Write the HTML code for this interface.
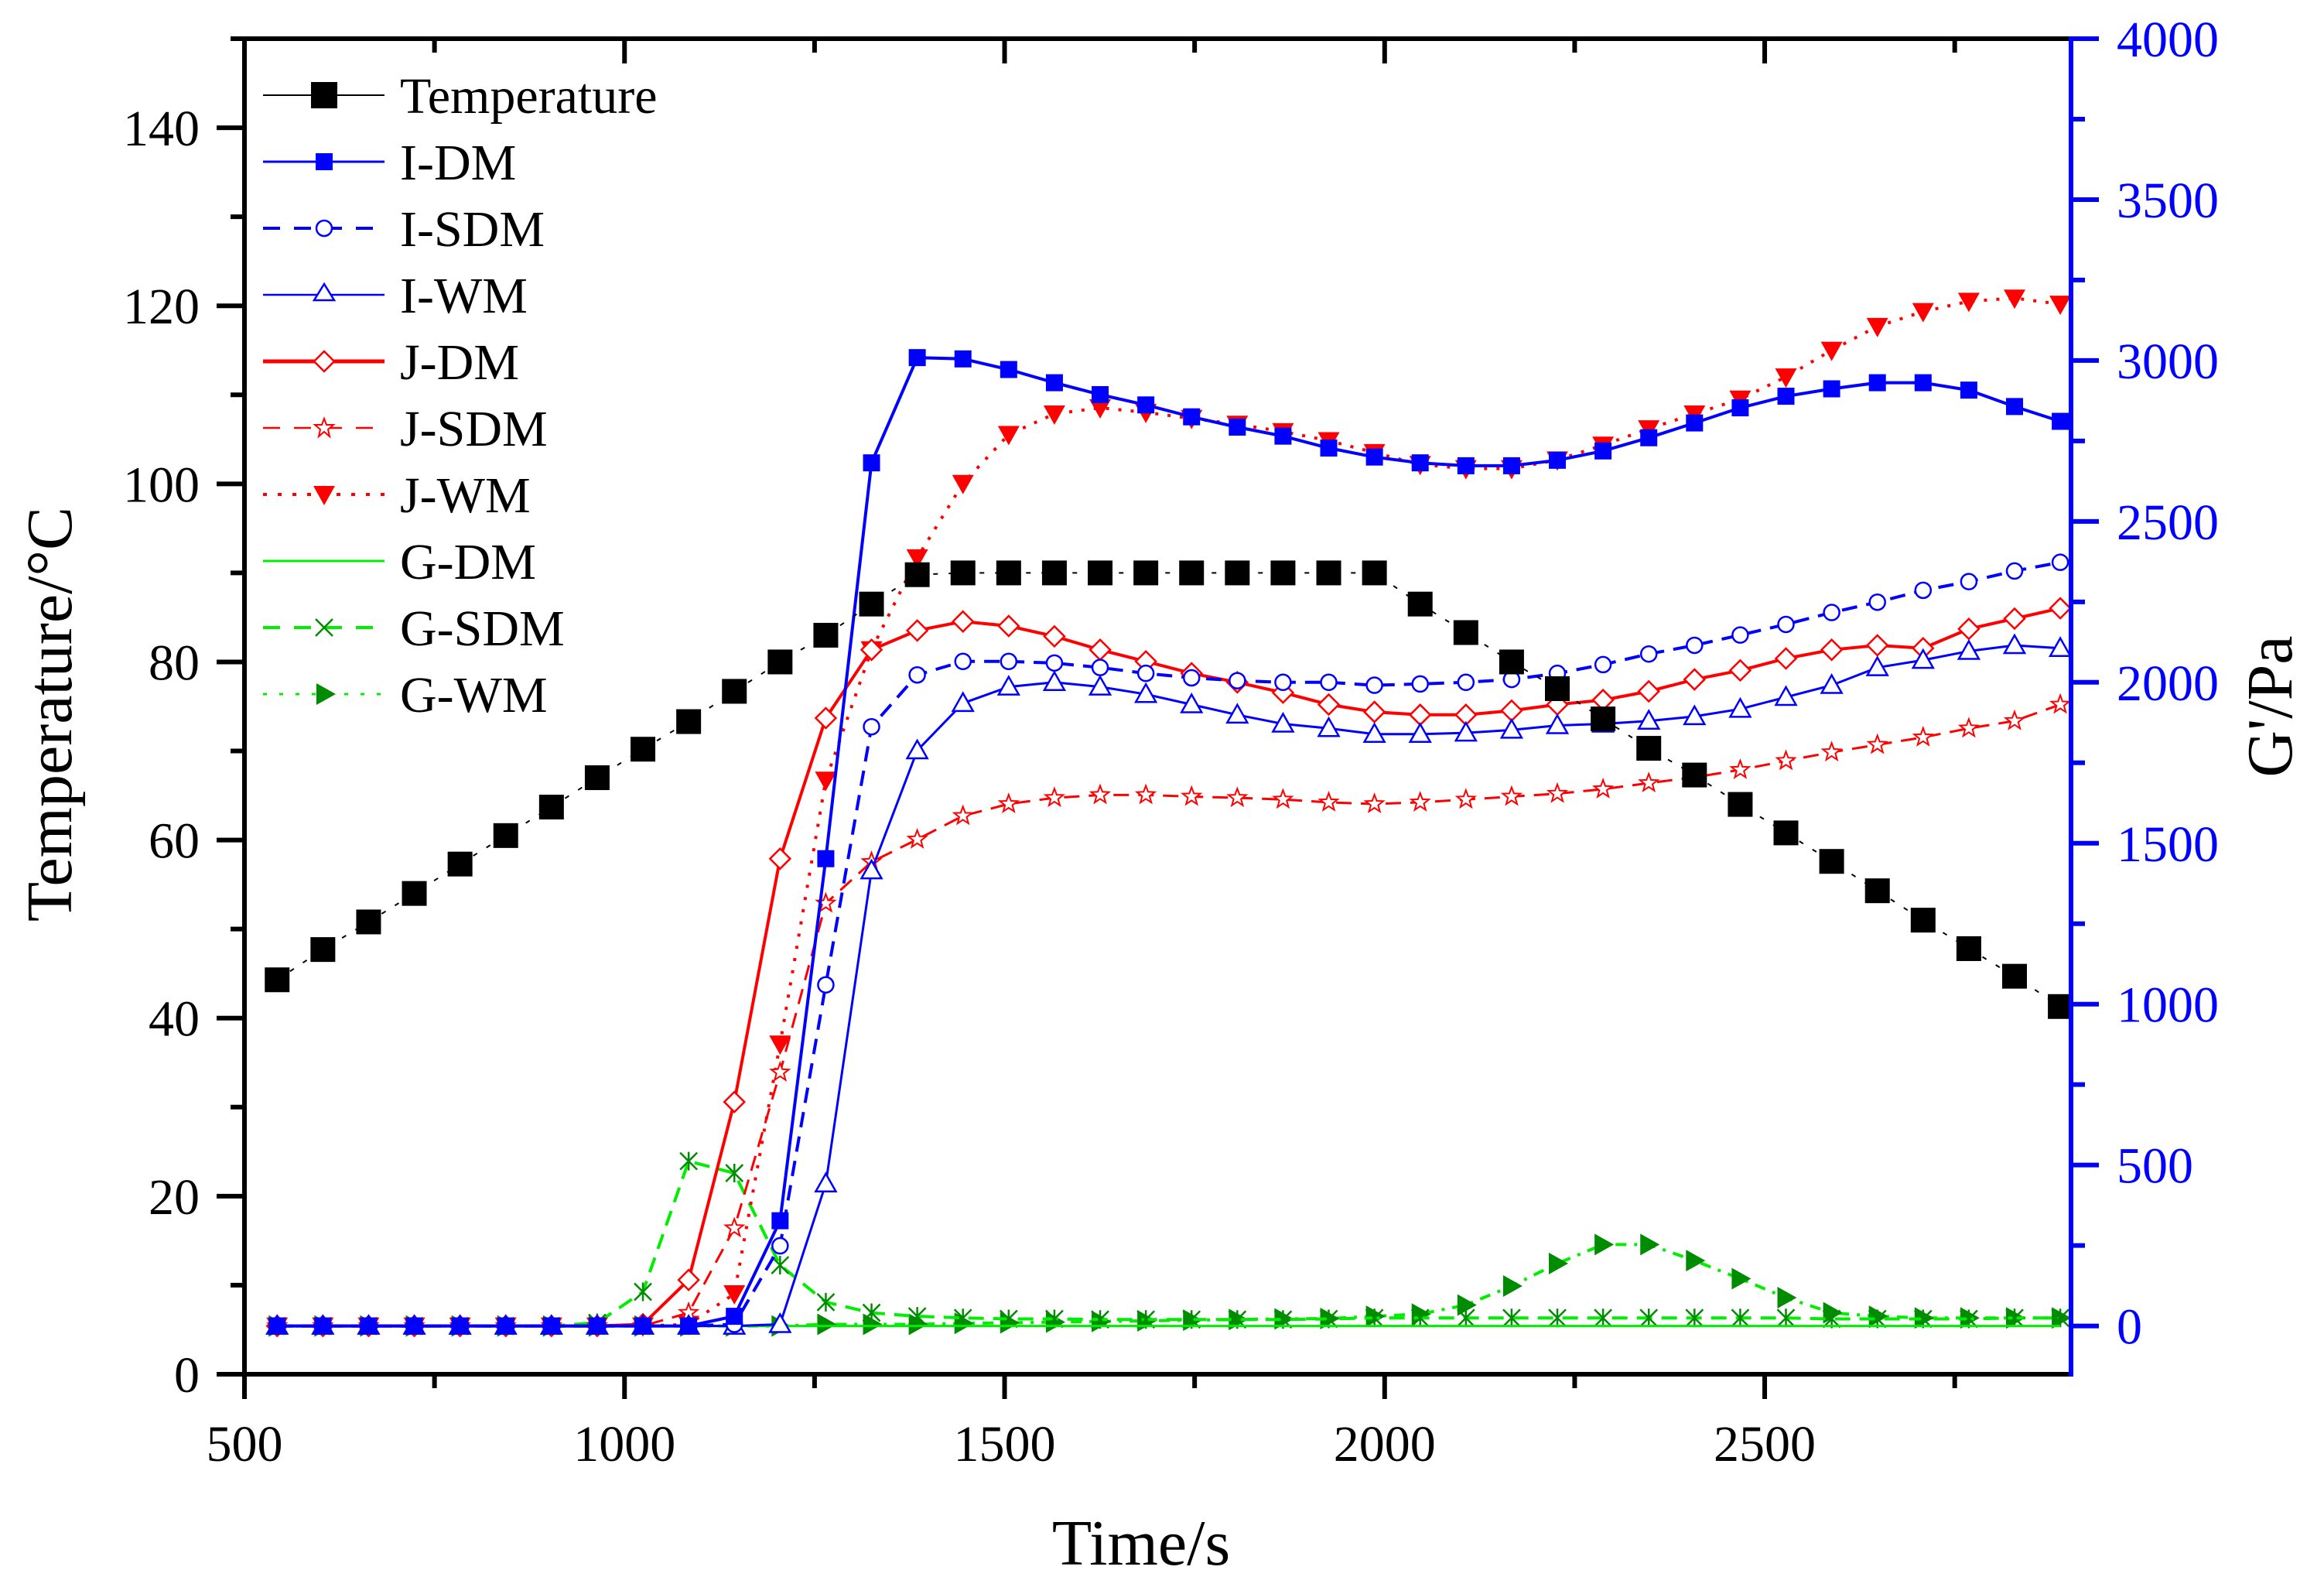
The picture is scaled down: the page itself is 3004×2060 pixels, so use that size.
<!DOCTYPE html>
<html><head><meta charset="utf-8"><style>
html,body{margin:0;padding:0;background:#fff}
svg{display:block;font-family:"Liberation Serif",serif}
</style></head><body>
<svg id="chart" width="3004" height="2060" viewBox="0 0 3004 2060" xmlns="http://www.w3.org/2000/svg"></svg>
<script>
const times = [];
const tStart = 543, tStep = 60.15;
for (let i = 0; i < 40; i++) times.push(tStart + tStep * i);
const temperature = [44.3,47.7,50.8,54,57.3,60.5,63.7,67,70.2,73.3,76.7,80,83,86.5,89.8,90,90,90,90,90,90,90,90,90,90,86.5,83.3,80,77,73.6,70.3,67.3,64,60.8,57.6,54.3,51,47.8,44.7,41.3];
const iDM = [0,0,0,0,0,0,0,0,0,0,30,327,1452,2682,3009,3005,2972,2931,2894,2862,2825,2793,2765,2728,2700,2682,2673,2673,2690,2719,2760,2806,2853,2889,2912,2931,2931,2908,2857,2811];
const iSDM = [0,0,0,0,0,0,0,0,0,0,5,249,1060,1862,2023,2065,2065,2060,2046,2028,2014,2005,2000,2000,1991,1995,2000,2009,2028,2055,2088,2115,2147,2180,2217,2249,2286,2313,2346,2373];
const iWM = [0,0,0,0,0,0,0,0,0,0,0,5,442,1415,1788,1935,1986,2000,1986,1963,1931,1899,1871,1857,1839,1839,1843,1852,1866,1871,1880,1894,1917,1954,1991,2046,2069,2097,2115,2106];
const jDM = [0,0,0,0,0,0,0,0,5,143,696,1452,1889,2101,2161,2189,2175,2143,2101,2065,2028,2000,1968,1931,1908,1899,1899,1912,1931,1945,1972,2009,2037,2074,2101,2115,2106,2166,2198,2230];
const jSDM = [0,0,0,0,0,0,0,0,0,41,304,788,1313,1442,1512,1585,1622,1641,1650,1650,1645,1641,1636,1627,1622,1627,1636,1645,1654,1668,1687,1705,1728,1756,1783,1806,1829,1857,1880,1931];
const jWM = [0,0,0,0,0,0,0,0,0,5,100,876,1696,2101,2387,2618,2770,2834,2853,2839,2820,2802,2779,2751,2714,2677,2664,2664,2691,2737,2788,2834,2880,2949,3032,3106,3152,3184,3194,3175];
const gDM = [0,0,0,0,0,0,0,0,0,0,0,0,0,0,0,0,0,0,0,0,0,0,0,0,0,0,0,0,0,0,0,0,0,0,0,0,0,0,0,0];
const gSDM = [0,0,0,0,0,0,0,10,106,512,475,189,74,41,30,25,22,22,20,20,20,20,20,22,25,25,25,25,25,25,25,25,25,25,22,22,22,22,25,25];
const gWM = [0,0,0,0,0,0,0,0,0,0,0,0,5,5,5,8,10,12,14,16,18,20,22,23,30,37,65,124,194,253,253,203,147,88,41,30,25,25,25,25];
const xTicks = [500,1000,1500,2000,2500];
const yLeftTicks = [0,20,40,60,80,100,120,140];
const yRightTicks = [0,500,1000,1500,2000,2500,3000,3500,4000];

const svg = document.getElementById('chart');
const NS = 'http://www.w3.org/2000/svg';
const L = 316, R = 2677, T = 50, B = 1776;
const X = t => L + (t - 500) * (R - L) / 2403;
const YL = v => B - v * (B - T) / 150;
const YR = v => B - (v + 150) * (B - T) / 4150;
function el(tag, attrs, parent) {
  const e = document.createElementNS(NS, tag);
  for (const k in attrs) e.setAttribute(k, attrs[k]);
  (parent || svg).appendChild(e);
  return e;
}
function txt(s, attrs, parent) { const e = el('text', attrs, parent); e.textContent = s; return e; }

function marker(g, type, x, y, fill, stroke) {
  if (type === 'bigsquare') return el('rect', {x:x-16,y:y-16,width:32,height:32,fill:'#000'}, g);
  if (type === 'square') return el('rect', {x:x-11,y:y-11,width:22,height:22,fill:stroke}, g);
  if (type === 'circle') return el('circle', {cx:x,cy:y,r:10,fill:'#fff',stroke:stroke,'stroke-width':2.5}, g);
  if (type === 'utri') return el('polygon', {points:`${x},${y-13} ${x-13},${y+10} ${x+13},${y+10}`,fill:'#fff',stroke:stroke,'stroke-width':2.5}, g);
  if (type === 'diamond') return el('polygon', {points:`${x},${y-13} ${x+13},${y} ${x},${y+13} ${x-13},${y}`,fill:'#fff',stroke:stroke,'stroke-width':2.5}, g);
  if (type === 'dtri') return el('polygon', {points:`${x-14},${y-11} ${x+14},${y-11} ${x},${y+14}`,fill:stroke}, g);
  if (type === 'rtri') return el('polygon', {points:`${x-11},${y-14} ${x-11},${y+14} ${x+14},${y}`,fill:'#008c00'}, g);
  if (type === 'star') {
    let p = [];
    for (let k = 0; k < 10; k++) { const a = -Math.PI/2 + k*Math.PI/5; const r = k%2?5:12; p.push((x+r*Math.cos(a)).toFixed(1)+','+(y+r*Math.sin(a)).toFixed(1)); }
    return el('polygon', {points:p.join(' '),fill:'#fff',stroke:stroke,'stroke-width':2}, g);
  }
  if (type === 'cross') {
    return el('path', {d:`M${x-11},${y-11}L${x+11},${y+11}M${x-11},${y+11}L${x+11},${y-11}M${x},${y-12}L${x},${y+12}`,stroke:'#008c00','stroke-width':2.5,fill:'none'}, g);
  }
  return null;
}

const series = [
  {name:'Temperature', vals:temperature, axis:'L', color:'#000', dash:'6 14', lw:2, mk:'bigsquare'},
  {name:'I-DM', vals:iDM, axis:'R', color:'#0000ff', dash:null, lw:4, mk:'square'},
  {name:'I-SDM', vals:iSDM, axis:'R', color:'#0000ff', dash:'20 12', lw:4, mk:'circle'},
  {name:'I-WM', vals:iWM, axis:'R', color:'#0000ff', dash:null, lw:3, mk:'utri'},
  {name:'J-DM', vals:jDM, axis:'R', color:'#ff0000', dash:null, lw:4, mk:'diamond'},
  {name:'J-SDM', vals:jSDM, axis:'R', color:'#ff0000', dash:'20 12', lw:3, mk:'star'},
  {name:'J-WM', vals:jWM, axis:'R', color:'#ff0000', dash:'4 12', lw:4, mk:'dtri'},
  {name:'G-DM', vals:gDM, axis:'R', color:'#00ee00', dash:null, lw:3, mk:null},
  {name:'G-SDM', vals:gSDM, axis:'R', color:'#00ee00', dash:'20 12', lw:4, mk:'cross'},
  {name:'G-WM', vals:gWM, axis:'R', color:'#00ee00', dash:'14 10 4 10', lw:4, mk:'rtri'}
];

const plotG = el('g', {});


series.slice().reverse().forEach(s => {
  const g = el('g', {}, plotG);
  
  
  const Y = s.axis === 'L' ? YL : YR;
  const pts = s.vals.map((v, i) => X(times[i]).toFixed(1) + ',' + Y(v).toFixed(1)).join(' ');
  const pl = el('polyline', {points:pts, fill:'none', stroke:s.color, 'stroke-width':s.lw}, g);
  if (s.dash) pl.setAttribute('stroke-dasharray', s.dash);
  if (s.mk) s.vals.forEach((v, i) => {
    const m = marker(g, s.mk, X(times[i]), Y(v), null, s.color);
    
    
  });
});

const ax = el('g', {});


el('line', {x1:L, y1:T-3, x2:L, y2:B+3, stroke:'#000','stroke-width':6}, ax);
el('line', {x1:L-3, y1:B, x2:R, y2:B, stroke:'#000','stroke-width':6}, ax);
el('line', {x1:L-3, y1:T, x2:R, y2:T, stroke:'#000','stroke-width':6}, ax);
el('line', {x1:R, y1:T-3, x2:R, y2:B+3, stroke:'#0000ff','stroke-width':6}, ax);
for (let v = 500; v <= 2750; v += 250) {
  const x = X(v), major = v % 500 === 0;
  el('line', {x1:x, y1:B, x2:x, y2:B + (major?32:18), stroke:'#000','stroke-width':6}, ax);
  el('line', {x1:x, y1:T, x2:x, y2:T + (major?32:18), stroke:'#000','stroke-width':6}, ax);
}
xTicks.forEach(v => {
  const t = txt(String(v), {x:X(v), y:B+112, 'font-size':66, 'text-anchor':'middle', fill:'#000'}, ax);
  
  
});
for (let v = 0; v <= 150; v += 10) {
  const y = YL(v), major = v % 20 === 0;
  el('line', {x1:L, y1:y, x2:L - (major?36:18), y2:y, stroke:'#000','stroke-width':6}, ax);
}
yLeftTicks.forEach(v => {
  const t = txt(String(v), {x:258, y:YL(v)+23, 'font-size':66, 'text-anchor':'end', fill:'#000'}, ax);
  
  
});
for (let v = 0; v <= 4000; v += 250) {
  const y = YR(v), major = v % 500 === 0;
  el('line', {x1:R, y1:y, x2:R + (major?36:18), y2:y, stroke:'#0000ff','stroke-width':6}, ax);
}
yRightTicks.forEach(v => {
  const t = txt(String(v), {x:2736, y:YR(v)+23, 'font-size':66, 'text-anchor':'start', fill:'#0000ff'}, ax);
  
  
});
</script>
<svg style="position:absolute;left:0;top:0" width="3004" height="2060" xmlns="http://www.w3.org/2000/svg">
  <text x="1475" y="2022" font-family="Liberation Serif, serif" font-size="84" text-anchor="middle">Time/s</text>
  <text transform="translate(92,923) rotate(-90)" font-family="Liberation Serif, serif" font-size="84" text-anchor="middle">Temperature/°C</text>
  <text transform="translate(2962,913) rotate(-90)" font-family="Liberation Serif, serif" font-size="84" text-anchor="middle">G'/Pa</text>
  <g font-family="Liberation Serif, serif" font-size="66">
    <g><line x1="340" y1="123" x2="497" y2="123" stroke="#000" stroke-width="2"/><rect x="402" y="106" width="34" height="34" fill="#000"/><text x="517" y="146">Temperature</text></g>
    <g><line x1="340" y1="209" x2="497" y2="209" stroke="#00f" stroke-width="3"/><rect x="408" y="198" width="22" height="22" fill="#00f"/><text x="517" y="232">I-DM</text></g>
    <g><line x1="340" y1="295" x2="497" y2="295" stroke="#00f" stroke-width="4" stroke-dasharray="22 18"/><circle cx="419" cy="295" r="10" fill="#fff" stroke="#00f" stroke-width="2.5"/><text x="517" y="318">I-SDM</text></g>
    <g><line x1="340" y1="381" x2="497" y2="381" stroke="#00f" stroke-width="2.5"/><polygon points="419,367 406,388 432,388" fill="#fff" stroke="#00f" stroke-width="2.5"/><text x="517" y="404">I-WM</text></g>
    <g><line x1="340" y1="467" x2="497" y2="467" stroke="#f00" stroke-width="5"/><polygon points="419,454 432,467 419,480 406,467" fill="#fff" stroke="#f00" stroke-width="2.5"/><text x="517" y="490">J-DM</text></g>
    <g><line x1="340" y1="553" x2="497" y2="553" stroke="#f00" stroke-width="2.5" stroke-dasharray="22 18"/><polygon points="419,541 422,549 431,549 424,555 426,564 419,558 412,564 414,555 407,549 416,549" fill="#fff" stroke="#f00" stroke-width="2"/><text x="517" y="576">J-SDM</text></g>
    <g><line x1="340" y1="639" x2="497" y2="639" stroke="#f00" stroke-width="4" stroke-dasharray="5 14"/><polygon points="405,628 433,628 419,653" fill="#f00"/><text x="517" y="662">J-WM</text></g>
    <g><line x1="340" y1="725" x2="497" y2="725" stroke="#00ee00" stroke-width="3"/><text x="517" y="748">G-DM</text></g>
    <g><line x1="340" y1="811" x2="497" y2="811" stroke="#00ee00" stroke-width="4" stroke-dasharray="22 18"/><path d="M408,800L430,822M408,822L430,800" stroke="#008c00" stroke-width="2.5"/><text x="517" y="834">G-SDM</text></g>
    <g><line x1="340" y1="897" x2="497" y2="897" stroke="#00ee00" stroke-width="3" stroke-dasharray="5 16"/><polygon points="409,883 409,911 434,897" fill="#008c00"/><text x="517" y="920">G-WM</text></g>
  </g>
</svg>
</body></html>
